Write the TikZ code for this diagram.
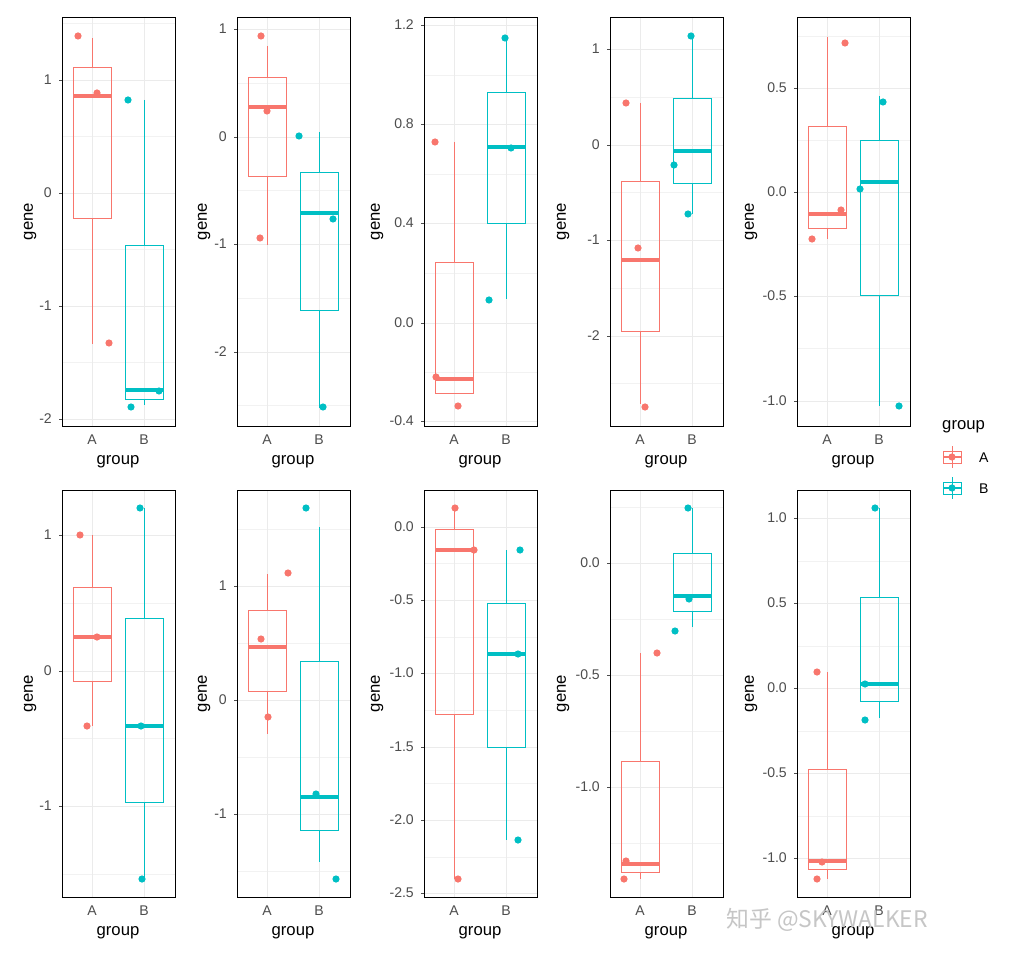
\documentclass[tikz,border=0pt]{standalone}
\usepackage{fontspec}
\setmainfont{Liberation Sans}
\newfontfamily\cjk{Noto Sans CJK SC}
\definecolor{ca}{HTML}{F8766D}
\definecolor{cb}{HTML}{00BFC4}
\definecolor{tk}{HTML}{4D4D4D}
\tikzset{
  frame/.style={draw=black, line width=0.5pt},
  grid/.style={draw=black!8, line width=0.4pt},
  tick/.style={tk, font=\fontsize{8}{9}\selectfont, anchor=east},
  ttl/.style={font=\fontsize{9.5}{11}\selectfont},
}
% panel frame, vertical grid, x labels, titles: x0, top, bottom, gene offset
\newcommand\pnl[4]{%
  \draw[grid] (#1+30,#2) -- (#1+30,#3) (#1+82,#2) -- (#1+82,#3);
  \draw[frame] (#1,#2) rectangle (#1+113,#3);
  \node[tk, font=\fontsize{8}{9}\selectfont] at (#1+30,#3+14) {A};
  \node[tk, font=\fontsize{8}{9}\selectfont] at (#1+82,#3+14) {B};
  \node[ttl] at (#1+56,#3+36) {group};
  \node[ttl, rotate=90] at (#1-#4,{(#2+#3)/2}) {gene};}
% horizontal tick: x0, top, bottom, y, label
\newcommand\tck[5]{%
  \draw[grid] (#1,#4) -- (#1+113,#4);
  \draw[tk] (#1-3,#4) -- (#1,#4);
  \node[tick] at (#1-4,#4) {#5};}
% minor grid
\newcommand\mnr[2]{\draw[black!5, line width=0.3pt] (#1,#2) -- (#1+113,#2);}
% box: cx, colour, whisker top, q3, median, q1, whisker bottom
\newcommand\bxp[7]{%
  \draw[#2, line width=0.45pt] (#1,#3) -- (#1,#4) (#1,#6) -- (#1,#7);
  \draw[#2, line width=0.45pt] (#1-19,#4) rectangle (#1+19,#6);
  \draw[#2, line width=1.9pt] (#1-19,#5) -- (#1+19,#5);}
\newcommand\pt[3]{\fill[#1] (#2,#3) circle (3.6);}
\begin{document}
\begin{tikzpicture}[x=0.02cm, y=-0.02cm]
\useasboundingbox[fill=white] (0,0) rectangle (1013,962);

% ---- top row ----
% panel 1
\foreach \m in {23,136,249,362} {\mnr{62}{\m}}
\foreach \v/\l in {80/1,193/0,306/-1,419/-2} {\tck{62}{17}{426}{\v}{\l}}
\pnl{62}{17}{426}{32}
\bxp{92}{ca}{38}{67}{96}{218}{344}
\bxp{144}{cb}{100}{245}{390}{399}{405}
\pt{ca}{78}{36}\pt{ca}{97}{93}\pt{ca}{109}{343}
\pt{cb}{128}{100}\pt{cb}{131}{407}\pt{cb}{159}{391}

% panel 2
\foreach \m in {83,190,298,405} {\mnr{237}{\m}}
\foreach \v/\l in {29/1,137/0,244/-1,352/-2} {\tck{237}{17}{426}{\v}{\l}}
\pnl{237}{17}{426}{33}
\bxp{267}{ca}{46}{77}{107}{176}{245}
\bxp{319}{cb}{132}{172}{213}{310}{408}
\pt{ca}{261}{36}\pt{ca}{267}{111}\pt{ca}{260}{238}
\pt{cb}{299}{136}\pt{cb}{333}{219}\pt{cb}{323}{407}

% panel 3
\foreach \m in {75,174,273,372} {\mnr{424}{\m}}
\foreach \v/\l in {25/1.2,124/0.8,223/0.4,323/0.0,421/-0.4} {\tck{424}{17}{426}{\v}{\l}}
\pnl{424}{17}{426}{47}
\bxp{454}{ca}{142}{262}{379}{393}{393}
\bxp{506}{cb}{37}{92}{147}{223}{299}
\pt{ca}{435}{142}\pt{ca}{436}{377}\pt{ca}{458}{406}
\pt{cb}{505}{38}\pt{cb}{511}{148}\pt{cb}{489}{300}

% panel 4
\foreach \m in {97,192,288,383} {\mnr{610}{\m}}
\foreach \v/\l in {49/1,145/0,240/-1,336/-2} {\tck{610}{17}{426}{\v}{\l}}
\pnl{610}{17}{426}{47}
\bxp{640}{ca}{103}{181}{260}{331}{404}
\bxp{692}{cb}{36}{98}{151}{183}{214}
\pt{ca}{626}{103}\pt{ca}{638}{248}\pt{ca}{645}{407}
\pt{cb}{691}{36}\pt{cb}{674}{165}\pt{cb}{688}{214}

% panel 5
\foreach \m in {36,140,244,348} {\mnr{797}{\m}}
\foreach \v/\l in {88/0.5,192/0.0,296/-0.5,401/-1.0} {\tck{797}{17}{426}{\v}{\l}}
\pnl{797}{17}{426}{46}
\bxp{827}{ca}{37}{126}{214}{228}{239}
\bxp{879}{cb}{96}{140}{182}{295}{406}
\pt{ca}{812}{239}\pt{ca}{845}{43}\pt{ca}{841}{210}
\pt{cb}{883}{102}\pt{cb}{860}{189}\pt{cb}{899}{406}

% ---- bottom row ----
% panel 6
\foreach \m in {603,738,874} {\mnr{62}{\m}}
\foreach \v/\l in {535/1,671/0,806/-1} {\tck{62}{490}{897}{\v}{\l}}
\pnl{62}{490}{897}{32}
\bxp{92}{ca}{535}{587}{637}{681}{726}
\bxp{144}{cb}{508}{618}{726}{802}{879}
\pt{ca}{80}{535}\pt{ca}{97}{637}\pt{ca}{87}{726}
\pt{cb}{140}{508}\pt{cb}{141}{726}\pt{cb}{142}{879}

% panel 7
\foreach \m in {529,643,757,871} {\mnr{237}{\m}}
\foreach \v/\l in {586/1,700/0,814/-1} {\tck{237}{490}{897}{\v}{\l}}
\pnl{237}{490}{897}{33}
\bxp{267}{ca}{574}{610}{647}{691}{734}
\bxp{319}{cb}{527}{661}{797}{830}{862}
\pt{ca}{261}{639}\pt{ca}{288}{573}\pt{ca}{268}{717}
\pt{cb}{306}{508}\pt{cb}{316}{794}\pt{cb}{336}{879}

% panel 8
\foreach \m in {563,637,710,783,857} {\mnr{424}{\m}}
\foreach \v/\l in {527/0.0,600/-0.5,673/-1.0,747/-1.5,820/-2.0,893/-2.5} {\tck{424}{490}{897}{\v}{\l}}
\pnl{424}{490}{897}{47}
\bxp{454}{ca}{508}{529}{550}{714}{879}
\bxp{506}{cb}{550}{603}{654}{747}{840}
\pt{ca}{455}{508}\pt{ca}{474}{550}\pt{ca}{458}{879}
\pt{cb}{520}{550}\pt{cb}{518}{654}\pt{cb}{518}{840}

% panel 9
\foreach \m in {507,619,731,843} {\mnr{610}{\m}}
\foreach \v/\l in {563/0.0,675/-0.5,787/-1.0} {\tck{610}{490}{897}{\v}{\l}}
\pnl{610}{490}{897}{47}
\bxp{640}{ca}{653}{761}{864}{872}{879}
\bxp{692}{cb}{508}{553}{596}{611}{627}
\pt{ca}{624}{879}\pt{ca}{626}{861}\pt{ca}{657}{653}
\pt{cb}{688}{508}\pt{cb}{689}{599}\pt{cb}{675}{631}

% panel 10
\foreach \m in {561,646,731,816} {\mnr{797}{\m}}
\foreach \v/\l in {518/1.0,603/0.5,688/0.0,773/-0.5,858/-1.0} {\tck{797}{490}{897}{\v}{\l}}
\pnl{797}{490}{897}{46}
\bxp{827}{ca}{672}{769}{861}{869}{879}
\bxp{879}{cb}{508}{597}{684}{701}{718}
\pt{ca}{817}{672}\pt{ca}{822}{862}\pt{ca}{817}{879}
\pt{cb}{875}{508}\pt{cb}{865}{684}\pt{cb}{865}{720}

% ---- legend ----
\node[ttl, anchor=west] (lgt) at (936,427) {group};
\draw[ca, line width=0.45pt] (952,446) -- (952,468) (943,451) rectangle (961,463);
\draw[ca, line width=1.2pt] (943,457) -- (961,457);
\pt{ca}{952}{457}
\node[font=\fontsize{8}{9}\selectfont, anchor=west] (lga) at (973,458) {A};
\draw[cb, line width=0.45pt] (952,477) -- (952,499) (943,482) rectangle (961,494);
\draw[cb, line width=1.2pt] (943,488) -- (961,488);
\pt{cb}{952}{488}
\node[font=\fontsize{8}{9}\selectfont, anchor=west] (lgb) at (973,489) {B};

% watermark
\node[white!55!gray, font=\cjk\fontsize{13}{15}\selectfont, anchor=west] (wm) at (720,920) {知乎 @SKYWALKER};
\end{tikzpicture}
\end{document}
